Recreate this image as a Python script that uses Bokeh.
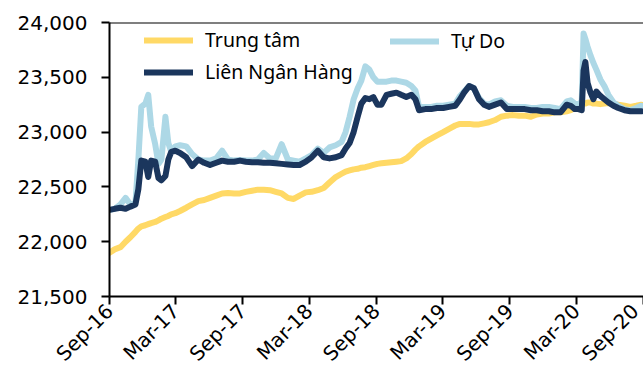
import math
import pandas as pd
from bokeh.plotting import figure
from bokeh.models import (ColumnDataSource, Range1d, FixedTicker, NumeralTickFormatter,
                          Legend, LegendItem, Span)
from bokeh.embed import file_html
from bokeh.resources import INLINE

dates = [
    "2016-09-01", "2016-09-15", "2016-10-01", "2016-10-15", "2016-10-28", "2016-11-11", "2016-11-19",
    "2016-11-27", "2016-12-08", "2016-12-16", "2016-12-24",
    "2017-01-04", "2017-01-13", "2017-01-21", "2017-02-01", "2017-02-09", "2017-02-17", "2017-02-28",
    "2017-03-13", "2017-03-30", "2017-04-15", "2017-05-02", "2017-05-18", "2017-06-03", "2017-06-20",
    "2017-07-06", "2017-07-22", "2017-08-08", "2017-08-24", "2017-09-09", "2017-09-26", "2017-10-12",
    "2017-10-28", "2017-11-14", "2017-11-30", "2017-12-16",
    "2018-01-02", "2018-01-18", "2018-02-03", "2018-02-20", "2018-03-08", "2018-03-25", "2018-04-10",
    "2018-04-26", "2018-05-13", "2018-05-29",
    "2018-06-09", "2018-06-20", "2018-07-01", "2018-07-12", "2018-07-22", "2018-08-02", "2018-08-13",
    "2018-08-24", "2018-09-04", "2018-09-15",
    "2018-09-29", "2018-10-12", "2018-10-26", "2018-11-08", "2018-11-22", "2018-12-06", "2018-12-17",
    "2018-12-27",
    "2019-01-13", "2019-01-29", "2019-02-14", "2019-03-03", "2019-03-19", "2019-04-05", "2019-04-18",
    "2019-04-29", "2019-05-13", "2019-05-26", "2019-06-09", "2019-06-23", "2019-07-06", "2019-07-23",
    "2019-08-08", "2019-08-24", "2019-09-10", "2019-09-26", "2019-10-12", "2019-10-29", "2019-11-14",
    "2019-11-30", "2019-12-17", "2020-01-02", "2020-01-18", "2020-02-04",
    "2020-02-15", "2020-02-26", "2020-03-07", "2020-03-16", "2020-03-21", "2020-03-26", "2020-04-01",
    "2020-04-09", "2020-04-17", "2020-04-25", "2020-05-06", "2020-05-17", "2020-05-28", "2020-06-11",
    "2020-06-24", "2020-07-11", "2020-07-27", "2020-08-12", "2020-08-26",
]

trung_tam = [
    21900, 21930, 21950, 22000, 22040, 22090, 22120, 22140, 22150, 22160, 22170,
    22180, 22195, 22210, 22225, 22235, 22250, 22260,
    22280, 22310, 22340, 22370, 22380, 22400, 22420, 22440, 22445, 22440, 22440, 22455, 22465,
    22475, 22475, 22470, 22455, 22440,
    22400, 22390, 22420, 22450, 22455, 22470, 22490, 22540, 22590, 22620,
    22640, 22650, 22660, 22665, 22675, 22680, 22690, 22700, 22710, 22715,
    22720, 22725, 22730, 22735, 22760, 22800, 22840, 22870,
    22910, 22940, 22970, 23000, 23030, 23060, 23075, 23075, 23075, 23070, 23070, 23080, 23090,
    23110, 23140, 23150, 23155, 23150, 23150, 23140, 23160, 23170, 23170, 23180, 23180, 23190,
    23200, 23220, 23240, 23250, 23260, 23260, 23270, 23270, 23260, 23260, 23255, 23260, 23265,
    23260, 23250, 23240, 23230, 23240, 23250,
]

tu_do = [
    22290, 22300, 22340, 22400, 22340, 22360, 22750, 23230, 23260, 23340, 23050,
    22890, 22710, 22750, 23140, 22900, 22820, 22870,
    22880, 22870, 22800, 22750, 22740, 22740, 22760, 22830, 22750, 22740, 22745, 22740, 22740,
    22750, 22810, 22760, 22760, 22890,
    22750, 22740, 22730, 22760, 22790, 22850, 22810, 22860, 22880, 22910,
    23000, 23140, 23300, 23400, 23470, 23600, 23570, 23500, 23460, 23460,
    23460, 23470, 23470, 23460, 23450, 23420, 23380, 23230,
    23230, 23230, 23240, 23240, 23250, 23260, 23330, 23370, 23420, 23400, 23310, 23260, 23250,
    23280, 23290, 23240, 23230, 23230, 23230, 23220, 23220, 23230, 23230, 23220, 23210, 23280,
    23290, 23260, 23250, 23280, 23900, 23850, 23780, 23700, 23630, 23570, 23480, 23420, 23340,
    23270, 23240, 23210, 23200, 23220, 23240,
]

lien_ngan_hang = [
    22290, 22300, 22310, 22300, 22320, 22340, 22480, 22740, 22730, 22590, 22740,
    22730, 22580, 22560, 22600, 22750, 22820, 22830,
    22810, 22770, 22690, 22750, 22720, 22700, 22720, 22740, 22730, 22730, 22740, 22730, 22725,
    22725, 22720, 22720, 22715, 22710,
    22705, 22700, 22700, 22730, 22770, 22830, 22770, 22760, 22770, 22790,
    22850, 22900, 23000, 23140, 23260, 23310, 23300, 23320, 23250, 23250,
    23340, 23350, 23360, 23340, 23320, 23340, 23300, 23200,
    23210, 23210, 23220, 23220, 23230, 23240, 23300, 23360, 23420, 23400, 23300, 23250, 23230,
    23250, 23270, 23210, 23210, 23210, 23210, 23200, 23200, 23190, 23190, 23180, 23180, 23250,
    23240, 23210, 23210, 23200, 23560, 23640, 23450, 23360, 23300, 23370, 23330, 23300, 23270,
    23240, 23220, 23200, 23190, 23190, 23190,
]

tick_dates = ["2016-09-01", "2017-03-01", "2017-09-01", "2018-03-01", "2018-09-01",
              "2019-03-01", "2019-09-01", "2020-03-01", "2020-09-01"]
tick_labels = ["Sep-16", "Mar-17", "Sep-17", "Mar-18", "Sep-18",
               "Mar-19", "Sep-19", "Mar-20", "Sep-20"]
y_ticks = [21500, 22000, 22500, 23000, 23500, 24000]

series_names = ["Trung tâm", "Tự Do", "Liên Ngân Hàng"]
colors = ["#FFD966", "#ADD8E6", "#1B365D"]

src = ColumnDataSource(dict(date=pd.to_datetime(dates), tt=trung_tam, td=tu_do, lnh=lien_ngan_hang))

tick_ms = [int(pd.Timestamp(d).value // 10**6) for d in tick_dates]

p = figure(width=643, height=380, x_axis_type="datetime", output_backend="svg",
           toolbar_location=None, min_border_left=109, min_border_right=0,
           min_border_top=22, min_border_bottom=84,
           x_range=Range1d(tick_ms[0], tick_ms[-1]),
           y_range=Range1d(y_ticks[0], y_ticks[-1]))
p.outline_line_color = None
p.xgrid.visible = False
p.ygrid.visible = False
p.background_fill_color = "white"
p.border_fill_color = "white"

lw = 6
r_tt = p.line("date", "tt", source=src, line_color=colors[0], line_width=lw,
              line_join="round", line_cap="round")
r_td = p.line("date", "td", source=src, line_color=colors[1], line_width=lw,
              line_join="round", line_cap="round")
r_lnh = p.line("date", "lnh", source=src, line_color=colors[2], line_width=lw,
               line_join="round", line_cap="round")

p.add_layout(Span(location=y_ticks[-1], dimension="width", line_color="black", line_width=2))

for ax in (p.xaxis[0], p.yaxis[0]):
    ax.axis_line_color = "black"
    ax.axis_line_width = 2
    ax.major_tick_line_color = "black"
    ax.major_tick_line_width = 2
    ax.major_tick_in = 0
    ax.major_tick_out = 8
    ax.minor_tick_line_color = None
    ax.major_label_text_font = "DejaVu Sans"
    ax.major_label_text_font_size = "20px"
    ax.major_label_text_color = "black"

p.yaxis.ticker = FixedTicker(ticks=y_ticks)
p.yaxis.formatter = NumeralTickFormatter(format="0,0")
p.yaxis.major_label_standoff = 14

p.xaxis.ticker = FixedTicker(ticks=tick_ms)
p.xaxis.major_label_overrides = {ms: lab for ms, lab in zip(tick_ms, tick_labels)}
p.xaxis.major_label_orientation = math.pi / 4
p.xaxis.major_label_standoff = 3


def style(leg):
    leg.border_line_color = None
    leg.background_fill_alpha = 0
    leg.padding = 0
    leg.margin = 0
    leg.spacing = 5
    leg.glyph_width = 49
    leg.glyph_height = 26
    leg.label_height = 26
    leg.label_standoff = 12
    leg.label_text_font = "Noto Sans"
    leg.label_text_font_size = "19.5px"
    leg.label_text_color = "black"


leg1 = Legend(items=[LegendItem(label=series_names[0], renderers=[r_tt]),
                     LegendItem(label=series_names[2], renderers=[r_lnh])],
              location=(35, 211))
leg2 = Legend(items=[LegendItem(label=series_names[1], renderers=[r_td])],
              location=(281, 242))
style(leg1)
style(leg2)
p.add_layout(leg1)
p.add_layout(leg2)

open("out.html", "w").write(file_html(p, INLINE))
